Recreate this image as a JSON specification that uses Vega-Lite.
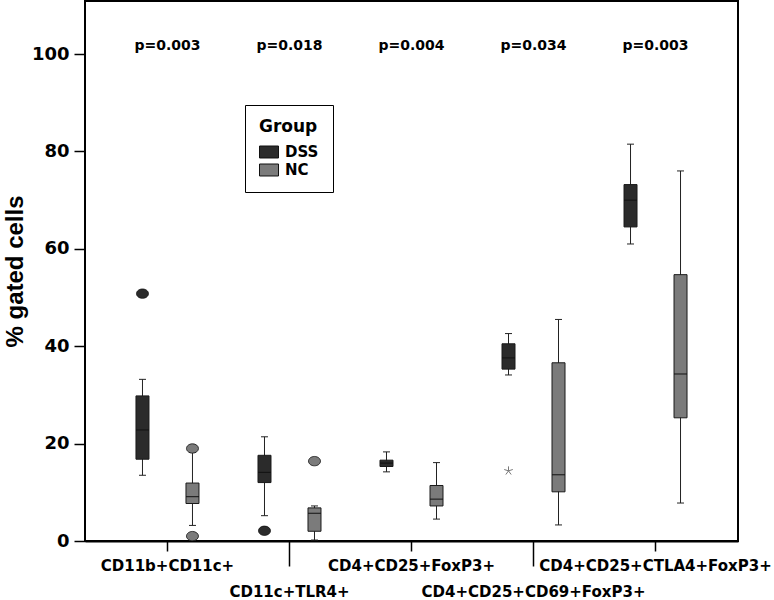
{
  "$schema": "https://vega.github.io/schema/vega-lite/v6.json",
  "width": 653,
  "height": 540,
  "autosize": {"type": "none"},
  "padding": {"left": 85, "top": 1, "right": 36, "bottom": 59},
  "background": "white",
  "config": {
    "view": {"stroke": "#000", "strokeWidth": 2},
    "font": "DejaVu Sans"
  },
  "datasets": {
    "boxes": [
      {"cat": "CD11b+CD11c+", "group": "DSS", "lower": 13.5, "q1": 16.8, "median": 22.8, "q3": 29.8, "upper": 33.2},
      {"cat": "CD11b+CD11c+", "group": "NC", "lower": 3.2, "q1": 7.7, "median": 9.1, "q3": 11.9, "upper": 18.2},
      {"cat": "CD11c+TLR4+", "group": "DSS", "lower": 5.2, "q1": 12.0, "median": 14.1, "q3": 17.6, "upper": 21.4},
      {"cat": "CD11c+TLR4+", "group": "NC", "lower": 0.2, "q1": 2.0, "median": 5.7, "q3": 6.8, "upper": 7.2},
      {"cat": "CD4+CD25+FoxP3+", "group": "DSS", "lower": 14.2, "q1": 15.3, "median": 16.0, "q3": 16.6, "upper": 18.3},
      {"cat": "CD4+CD25+FoxP3+", "group": "NC", "lower": 4.5, "q1": 7.2, "median": 8.6, "q3": 11.4, "upper": 16.1},
      {"cat": "CD4+CD25+CD69+FoxP3+", "group": "DSS", "lower": 34.1, "q1": 35.3, "median": 37.6, "q3": 40.5, "upper": 42.6},
      {"cat": "CD4+CD25+CD69+FoxP3+", "group": "NC", "lower": 3.3, "q1": 10.1, "median": 13.6, "q3": 36.6, "upper": 45.5},
      {"cat": "CD4+CD25+CTLA4+FoxP3+", "group": "DSS", "lower": 61.0, "q1": 64.5, "median": 70.0, "q3": 73.2, "upper": 81.5},
      {"cat": "CD4+CD25+CTLA4+FoxP3+", "group": "NC", "lower": 7.8, "q1": 25.3, "median": 34.3, "q3": 54.7, "upper": 76.0}
    ],
    "outliers": [
      {"cat": "CD11b+CD11c+", "group": "DSS", "value": 50.8, "kind": "circle"},
      {"cat": "CD11b+CD11c+", "group": "NC", "value": 19.0, "kind": "circle"},
      {"cat": "CD11b+CD11c+", "group": "NC", "value": 1.0, "kind": "circle"},
      {"cat": "CD11c+TLR4+", "group": "DSS", "value": 2.1, "kind": "circle"},
      {"cat": "CD11c+TLR4+", "group": "NC", "value": 16.4, "kind": "circle"},
      {"cat": "CD4+CD25+CD69+FoxP3+", "group": "DSS", "value": 14.4, "kind": "star"}
    ],
    "pvals": [
      {"cat": "CD11b+CD11c+", "label": "p=0.003"},
      {"cat": "CD11c+TLR4+", "label": "p=0.018"},
      {"cat": "CD4+CD25+FoxP3+", "label": "p=0.004"},
      {"cat": "CD4+CD25+CD69+FoxP3+", "label": "p=0.034"},
      {"cat": "CD4+CD25+CTLA4+FoxP3+", "label": "p=0.003"}
    ]
  },
  "encoding": {
    "x": {
      "field": "cat", "type": "nominal",
      "sort": ["CD11b+CD11c+", "CD11c+TLR4+", "CD4+CD25+FoxP3+", "CD4+CD25+CD69+FoxP3+", "CD4+CD25+CTLA4+FoxP3+"],
      "scale": {"paddingInner": 0, "paddingOuter": 0.176},
      "axis": {
        "title": null, "labelAngle": 0, "labelFont": "DejaVu Sans", "labelFontSize": 15, "labelFontWeight": "bold",
        "labelColor": "#000", "labelOverlap": false, "labelLimit": 400, "labelBound": false, "labelFlush": false,
        "domain": true, "domainColor": "#000", "domainWidth": 2, "tickColor": "#000", "tickWidth": 1.5,
        "tickSize": {"condition": {"test": "indexof(['CD11c+TLR4+','CD4+CD25+CD69+FoxP3+'], datum.value) >= 0", "value": 25}, "value": 10},
        "labelPadding": {"condition": {"test": "indexof(['CD11c+TLR4+','CD4+CD25+CD69+FoxP3+'], datum.value) >= 0", "value": 18}, "value": 7}
      }
    }
  },
  "layer": [
    {
      "data": {"name": "boxes"},
      "mark": {"type": "rule", "color": "#222", "strokeWidth": 1},
      "encoding": {
        "xOffset": {"field": "group", "type": "nominal", "scale": {"domain": ["DSS", "NC"], "paddingInner": 0.74, "paddingOuter": 0.59}},
        "y": {
          "field": "lower", "type": "quantitative",
          "scale": {"domain": [0, 110.9], "nice": false, "zero": false},
          "axis": {
            "title": "% gated cells",
            "labelFont": "DejaVu Sans", "labelFontSize": 18, "labelFontWeight": "bold", "labelColor": "#000",
            "tickSize": 11, "tickWidth": 1.5, "tickColor": "#000", "labelPadding": 5,
            "values": [0, 20, 40, 60, 80, 100], "grid": false, "domain": false,
            "titleFont": "Liberation Sans", "titleFontSize": 24, "titleFontWeight": "bold", "titleColor": "#000", "titlePadding": 4
          }
        },
        "y2": {"field": "upper"}
      }
    },
    {
      "data": {"name": "boxes"},
      "mark": {"type": "tick", "color": "#222", "thickness": 1, "size": 7, "opacity": 1},
      "encoding": {
        "xOffset": {"field": "group", "type": "nominal", "scale": {"domain": ["DSS", "NC"], "paddingInner": 0.74, "paddingOuter": 0.59}},
        "y": {"field": "lower", "type": "quantitative"}
      }
    },
    {
      "data": {"name": "boxes"},
      "mark": {"type": "tick", "color": "#222", "thickness": 1, "size": 7, "opacity": 1},
      "encoding": {
        "xOffset": {"field": "group", "type": "nominal", "scale": {"domain": ["DSS", "NC"], "paddingInner": 0.74, "paddingOuter": 0.59}},
        "y": {"field": "upper", "type": "quantitative"}
      }
    },
    {
      "data": {"name": "boxes"},
      "mark": {"type": "bar", "stroke": "#1a1a1a", "strokeWidth": 1, "opacity": 1},
      "encoding": {
        "xOffset": {"field": "group", "type": "nominal", "scale": {"domain": ["DSS", "NC"], "paddingInner": 0.74, "paddingOuter": 0.59}},
        "y": {"field": "q1", "type": "quantitative"},
        "y2": {"field": "q3"},
        "fill": {
          "field": "group", "type": "nominal",
          "scale": {"domain": ["DSS", "NC"], "range": ["#2b2b2b", "#7b7b7b"]},
          "legend": {
            "orient": "none", "legendX": 160, "legendY": 104, "title": "Group",
            "titleFont": "DejaVu Sans", "titleFontSize": 17, "titleFontWeight": "bold", "titleColor": "#000",
            "labelFont": "DejaVu Sans", "labelFontSize": 15, "labelFontWeight": "bold", "labelColor": "#000",
            "symbolType": "M-1,-0.63L1,-0.63L1,0.63L-1,0.63Z", "symbolSize": 361,
            "symbolStrokeColor": "#222", "symbolStrokeWidth": 1, "symbolOpacity": 1,
            "strokeColor": "#000", "fillColor": "white",
            "padding": 14, "rowPadding": 0, "labelOffset": 6, "titlePadding": 6
          }
        }
      }
    },
    {
      "data": {"name": "boxes"},
      "mark": {"type": "tick", "color": "#111", "thickness": 1, "size": 13, "opacity": 1},
      "encoding": {
        "xOffset": {"field": "group", "type": "nominal", "scale": {"domain": ["DSS", "NC"], "paddingInner": 0.74, "paddingOuter": 0.59}},
        "y": {"field": "median", "type": "quantitative"}
      }
    },
    {
      "data": {"name": "outliers"},
      "transform": [{"filter": "datum.kind === 'circle'"}],
      "mark": {"type": "point", "shape": "M-1,0A1,0.78 0 1,1 1,0A1,0.78 0 1,1 -1,0Z", "size": 144, "filled": true, "stroke": "#111", "strokeWidth": 0.8, "opacity": 1},
      "encoding": {
        "xOffset": {"field": "group", "type": "nominal", "scale": {"domain": ["DSS", "NC"], "paddingInner": 0.74, "paddingOuter": 0.59}},
        "y": {"field": "value", "type": "quantitative"},
        "fill": {"field": "group", "type": "nominal", "scale": {"domain": ["DSS", "NC"], "range": ["#2b2b2b", "#7b7b7b"]}}
      }
    },
    {
      "data": {"name": "outliers"},
      "transform": [{"filter": "datum.kind === 'star'"}],
      "mark": {"type": "point", "shape": "M0,0L0,-1M0,0L0.95,-0.31M0,0L0.59,0.81M0,0L-0.59,0.81M0,0L-0.95,-0.31", "size": 81, "filled": false, "stroke": "#777", "strokeWidth": 1, "opacity": 1},
      "encoding": {
        "xOffset": {"field": "group", "type": "nominal", "scale": {"domain": ["DSS", "NC"], "paddingInner": 0.74, "paddingOuter": 0.59}},
        "y": {"field": "value", "type": "quantitative"}
      }
    },
    {
      "data": {"name": "pvals"},
      "mark": {"type": "text", "font": "DejaVu Sans", "fontSize": 14, "fontWeight": "bold", "color": "#000"},
      "encoding": {
        "y": {"datum": 101.6, "type": "quantitative"},
        "text": {"field": "label"}
      }
    }
  ]
}
